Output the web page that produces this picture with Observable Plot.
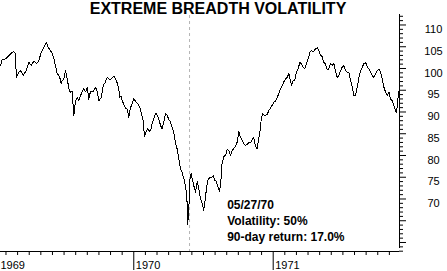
<!DOCTYPE html>
<html><head><meta charset="utf-8">
<script src="https://cdn.jsdelivr.net/npm/d3@7"></script>
<script src="https://cdn.jsdelivr.net/npm/@observablehq/plot@0.6"></script>
<style>
html,body{margin:0;padding:0;background:#fff;overflow:hidden;}
#chart svg{display:block;}
</style></head><body><div id="chart"></div>
<script>
// Time in decimal years, index level
const dates = [
1969.044,1969.056,1969.080,1969.104,1969.128,1969.139,1969.152,1969.157,1969.175,1969.188,
1969.207,1969.231,1969.247,1969.264,1969.283,1969.302,1969.319,1969.336,1969.355,1969.372,
1969.386,1969.403,1969.415,1969.426,1969.439,1969.451,1969.462,1969.469,1969.479,1969.487,
1969.498,1969.510,1969.523,1969.534,1969.546,1969.557,1969.570,1969.582,1969.594,1969.606,
1969.618,1969.630,1969.642,1969.654,1969.666,1969.677,1969.690,1969.709,1969.726,1969.738,
1969.749,1969.766,1969.781,1969.797,1969.809,1969.821,1969.833,1969.845,1969.857,1969.869,
1969.881,1969.893,1969.900,1969.910,1969.917,1969.929,1969.941,1969.953,1969.964,1969.972,
1969.982,1969.993,1970.000,1970.012,1970.029,1970.043,1970.060,1970.067,1970.077,1970.089,
1970.100,1970.113,1970.120,1970.132,1970.143,1970.156,1970.163,1970.179,1970.192,1970.204,
1970.215,1970.227,1970.240,1970.251,1970.263,1970.275,1970.287,1970.299,1970.311,1970.323,
1970.335,1970.347,1970.359,1970.366,1970.373,1970.383,1970.387,1970.395,1970.402,1970.412,
1970.419,1970.430,1970.443,1970.455,1970.466,1970.478,1970.491,1970.502,1970.514,1970.522,
1970.531,1970.543,1970.557,1970.570,1970.581,1970.593,1970.605,1970.615,1970.624,1970.631,
1970.646,1970.658,1970.670,1970.681,1970.694,1970.706,1970.717,1970.730,1970.742,1970.753,
1970.765,1970.778,1970.789,1970.801,1970.813,1970.825,1970.837,1970.849,1970.861,1970.873,
1970.885,1970.897,1970.909,1970.914,1970.925,1970.940,1970.957,1970.968,1970.976,1970.988,
1971.007,1971.017,1971.029,1971.040,1971.052,1971.065,1971.076,1971.088,1971.100,1971.112,
1971.124,1971.131,1971.143,1971.155,1971.167,1971.179,1971.191,1971.203,1971.215,1971.227,
1971.239,1971.251,1971.263,1971.275,1971.286,1971.303,1971.316,1971.327,1971.339,1971.351,
1971.363,1971.375,1971.387,1971.399,1971.411,1971.423,1971.435,1971.447,1971.459,1971.471,
1971.483,1971.495,1971.507,1971.519,1971.531,1971.543,1971.555,1971.567,1971.579,1971.591,
1971.603,1971.615,1971.627,1971.639,1971.650,1971.663,1971.675,1971.686,1971.698,1971.710,
1971.722,1971.734,1971.746,1971.758,1971.770,1971.782,1971.794,1971.806,1971.818,1971.830,
1971.842,1971.854,1971.866,1971.878,1971.885,1971.894,1971.899
];
const values = [
100.7,102.0,102.2,103.0,103.7,103.9,103.4,98.0,99.1,99.5,
98.4,99.7,101.4,100.7,101.7,101.1,101.8,103.7,104.9,106.0,
104.9,104.1,103.4,102.5,100.5,98.8,98.4,98.0,96.5,97.2,
97.6,99.5,97.5,95.5,94.4,94.9,89.2,92.6,93.3,92.6,
93.8,94.6,95.4,94.6,95.7,92.9,94.8,94.7,95.7,94.6,
92.6,93.2,96.1,96.9,98.0,97.6,97.5,97.8,98.3,97.6,
96.7,95.2,93.4,93.6,92.6,91.7,90.9,90.6,88.8,90.3,
91.5,92.3,93.0,92.5,91.9,91.1,88.9,88.0,84.4,85.5,
86.1,85.6,85.7,87.3,88.4,89.6,89.7,88.4,86.9,86.1,
87.7,89.6,89.2,88.3,87.8,86.4,85.3,82.8,81.5,79.3,
77.0,76.1,74.7,73.8,72.6,69.0,64.1,67.8,74.3,75.9,
74.7,73.1,71.6,74.0,72.4,70.2,69.0,67.4,70.3,72.6,
74.3,74.9,74.9,75.4,74.3,74.0,72.6,71.7,73.6,77.7,
79.8,80.0,81.4,81.2,80.0,81.2,81.6,82.1,83.1,85.5,
84.2,83.4,82.7,82.3,82.5,83.0,82.9,83.7,84.1,82.1,
81.5,84.0,86.3,88.4,89.6,89.2,89.4,90.3,90.7,91.3,
92.3,92.5,93.4,94.2,95.3,96.1,96.9,97.6,97.9,98.8,
97.2,96.1,97.2,97.4,99.1,99.9,101.4,101.1,100.3,99.9,
101.1,102.2,103.7,104.1,103.8,104.5,104.8,104.1,103.0,102.8,
101.4,101.1,99.7,99.9,101.1,100.7,101.1,99.5,98.0,98.4,
99.5,100.3,100.7,99.5,99.1,99.1,97.2,95.7,93.8,93.8,
95.7,98.0,99.5,100.3,101.1,101.4,100.3,99.9,99.1,98.4,
98.0,98.8,99.5,99.9,99.1,97.6,95.7,94.6,93.8,94.6,
93.0,92.6,91.5,90.3,89.9,92.6,94.6
];
const yearTicks = [1969, 1970, 1971];
const yearLabels = ["1969", "1970", "1971"];
const yTickLabels = [70, 75, 80, 85, 90, 95, 100, 105, 110];
const title = "EXTREME BREADTH VOLATILITY";
const eventDate = 1970.40; // 05/27/70
const eventLines = ["05/27/70", "Volatility: 50%", "90-day return: 17.0%"];

const xDomain = [1969.044, 1971.906];
const yDomain = [57.93, 112.41];

const data = dates.map((t, i) => ({t, v: values[i]}));
const monthTicks = d3.range(1969 * 12, 1972 * 12).map(m => m / 12)
  .filter(t => t >= xDomain[0] && t <= xDomain[1] && Math.abs(t - Math.round(t)) > 1e-9);
const yearIn = yearTicks.filter(t => t >= xDomain[0]);
const yearOut = yearTicks.map((t, i) => ({t, label: yearLabels[i]})).filter(d => d.t < xDomain[0]);
const yearInData = yearTicks.map((t, i) => ({t, label: yearLabels[i]})).filter(d => d.t >= xDomain[0]);
const minorY = d3.range(58, 113).filter(v => v % 5 !== 0);
const majorY = d3.range(60, 111, 5);

const F = "'Liberation Sans', Arial, sans-serif";
const chart = Plot.plot({
  width: 447, height: 271,
  marginTop: 14, marginRight: 48, marginBottom: 20, marginLeft: 0,
  style: {fontFamily: F, background: "#fff", color: "#000", overflow: "visible"},
  x: {type: "linear", domain: xDomain, axis: null},
  y: {type: "linear", domain: yDomain, axis: null},
  marks: [
    Plot.ruleX([eventDate], {stroke: "#b4b4b4", strokeDasharray: "3,3", insetTop: 1}),
    Plot.line(data, {x: "t", y: "v", stroke: "#000", strokeWidth: 1, shapeRendering: "crispEdges"}),
    Plot.ruleY([yDomain[0]], {stroke: "#000"}),
    Plot.ruleX(monthTicks, {insetTop: 237, insetBottom: -4, stroke: "#000"}),
    Plot.ruleX(yearIn, {insetTop: 237, insetBottom: -19, stroke: "#000"}),
    Plot.ruleX([xDomain[1]], {insetBottom: 3, stroke: "#000"}),
    Plot.ruleY(minorY, {insetLeft: 399, insetRight: -4, stroke: "#000"}),
    Plot.ruleY(majorY, {insetLeft: 399, insetRight: -7, stroke: "#000"}),
    Plot.text(yTickLabels, {y: d => d, text: d => String(d), frameAnchor: "right", dx: 34, dy: 4.5,
      textAnchor: "middle", fontSize: 11, fill: "#000"}),
    Plot.text(yearInData, {x: "t", text: "label", frameAnchor: "bottom", dx: 2, dy: 9.5,
      lineAnchor: "top", textAnchor: "start", fontSize: 11, fill: "#000"}),
    Plot.text(yearOut, {text: "label", frameAnchor: "bottom-left", dx: 0, dy: 9.5,
      lineAnchor: "top", textAnchor: "start", fontSize: 11, fill: "#000"}),
    Plot.text([title], {text: d => d, frameAnchor: "top", dx: 18, dy: -11.4, lineAnchor: "top",
      fontSize: 16, fontWeight: "bold", fill: "#000"}),
    Plot.text([eventDate], {x: d => d, text: () => eventLines.join("\n"), frameAnchor: "bottom",
      dx: 37.6, dy: -54.5, lineAnchor: "top", textAnchor: "start", lineHeight: 1.36,
      fontSize: 12, fontWeight: "bold", fill: "#000"})
  ]
});
document.getElementById("chart").appendChild(chart);
</script>
</body></html>
